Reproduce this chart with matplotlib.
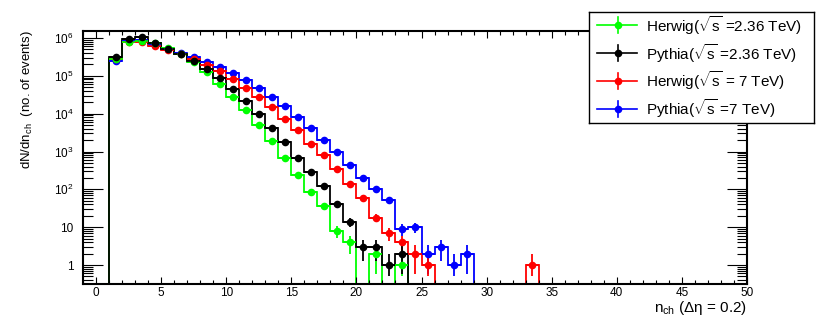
import numpy as np
import matplotlib
matplotlib.use('Agg')
import matplotlib.pyplot as plt
from matplotlib.ticker import MultipleLocator, LogLocator, NullFormatter

plt.rcParams['font.family'] = ['Liberation Sans', 'DejaVu Sans']
plt.rcParams['mathtext.fontset'] = 'custom'
plt.rcParams['mathtext.rm'] = 'Liberation Sans'
plt.rcParams['mathtext.it'] = 'Liberation Sans:italic'
plt.rcParams['mathtext.bf'] = 'Liberation Sans:bold'

# bin edges, unit width; first filled bin is [1, 2)
edges = np.arange(0, 36)

# counts per bin, starting at bin [1, 2)
herwig_236 = [2.8e5, 7.7e5, 8.5e5, 7.2e5, 5.4e5, 3.8e5, 2.3e5, 1.23e5, 6.2e4, 2.8e4,
              1.23e4, 4.9e3, 1.9e3, 690, 234, 83, 36, 8, 4, 0, 2, 0, 1]
pythia_236 = [3.1e5, 9.3e5, 1.05e6, 7.4e5, 5.1e5, 3.8e5, 2.5e5, 1.47e5, 8.5e4, 4.4e4,
              2.1e4, 9.8e3, 4.2e3, 1.8e3, 690, 280, 120, 40, 14, 3, 3, 1, 2]
herwig_7 = [2.7e5, 8.0e5, 7.8e5, 6.3e5, 4.8e5, 3.7e5, 2.7e5, 1.9e5, 1.3e5, 8.3e4,
            4.9e4, 2.75e4, 1.5e4, 7.2e3, 3.6e3, 1.6e3, 800, 340, 135, 60, 18, 7, 4, 2, 1,
            0, 0, 0, 0, 0, 0, 0, 1]
pythia_7 = [2.5e5, 8.1e5, 8.7e5, 6.6e5, 5.0e5, 4.0e5, 3.1e5, 2.35e5, 1.74e5, 1.17e5,
            7.9e4, 4.9e4, 2.8e4, 1.55e4, 8.1e3, 4.2e3, 2.0e3, 950, 430, 205, 100, 51,
            9, 10, 2, 3, 1, 2]

labels = [r'Herwig($\sqrt{\mathrm{s}}$ =2.36 TeV)', r'Pythia($\sqrt{\mathrm{s}}$ =2.36 TeV)',
          r'Herwig($\sqrt{\mathrm{s}}$ = 7 TeV)', r'Pythia($\sqrt{\mathrm{s}}$ =7 TeV)']
series = [herwig_236, pythia_236, herwig_7, pythia_7]
colors = ['#00ff00', '#000000', '#ff0000', '#0000ff']

W, H = 830, 316
fig = plt.figure(figsize=(W / 100, H / 100), dpi=100)
ax = fig.add_axes([83 / W, 1 - 284.3 / H, (747 - 83) / W, (284.3 - 31.3) / H])

centers = edges[:-1] + 0.5


def draw(vals, color):
    n = np.zeros(len(edges) - 1)
    n[1:1 + len(vals)] = vals
    ax.stairs(n, edges, baseline=None, color=color, lw=1.3)
    m = n > 0
    err = np.sqrt(n[m])
    lo = np.minimum(err, n[m] - 0.5)
    ax.errorbar(centers[m], n[m], xerr=0.5, yerr=[lo, err], fmt='o', color=color,
                ms=5.5, mew=0, elinewidth=1.3, capsize=0)


# draw order: blue, red, green, black on top
for i in [3, 2, 0, 1]:
    draw(series[i], colors[i])

ax.set_yscale('log')
ax.set_xlim(-1, 50)
ax.set_ylim(0.31, 1.5e6)

ax.xaxis.set_major_locator(MultipleLocator(5))
ax.xaxis.set_minor_locator(MultipleLocator(1))
ax.set_yticks([1, 10, 100, 1e3, 1e4, 1e5, 1e6])
ax.set_yticklabels(['1', '10', '$10^{2}$', '$10^{3}$', '$10^{4}$', '$10^{5}$', '$10^{6}$'])
ax.yaxis.set_minor_locator(LogLocator(base=10, subs=np.arange(2, 10)))
ax.yaxis.set_minor_formatter(NullFormatter())

ax.tick_params(axis='x', which='both', direction='in', top=True, labelsize=8.5, pad=2, width=0.8)
ax.tick_params(axis='x', which='major', length=5.2)
ax.tick_params(axis='x', which='minor', length=2.6)
ax.tick_params(axis='y', which='both', direction='in', right=True, labelsize=8.5, pad=7, width=0.8)
ax.tick_params(axis='y', which='major', length=14.4)
ax.tick_params(axis='y', which='minor', length=7.2)
for s in ax.spines.values():
    s.set_linewidth(1.5)

fig.text(746.7 / W, 1 - 299 / H, r'$\mathrm{n_{ch}}$ (Δη = 0.2)', ha='right', va='top', fontsize=11)
fig.text(26.7 / W, 1 - 30 / H, r'dN/d$\mathrm{n_{ch}}$  (no. of events)', rotation=90,
         ha='center', va='top', fontsize=9.5)

# legend box
lx0, lx1, ly0, ly1 = 589, 813.5, 11.7, 122.7
lax = fig.add_axes([lx0 / W, 1 - ly1 / H, (lx1 - lx0) / W, (ly1 - ly0) / H])
lax.set_xlim(lx0, lx1)
lax.set_ylim(ly1, ly0)
lax.set_xticks([])
lax.set_yticks([])
for s in lax.spines.values():
    s.set_linewidth(1.0)
for i, (lab, c) in enumerate(zip(labels, colors)):
    y = 25.3 + 27.8 * i
    lax.plot([597, 637], [y, y], color=c, lw=1.2)
    lax.plot([617.5, 617.5], [y - 8, y + 8], color=c, lw=1.2)
    lax.plot([617.5], [y], 'o', color=c, ms=5.5, mew=0)
    lax.text(646, y, lab, va='center', ha='left', fontsize=11)

fig.savefig('out.png', dpi=100)
